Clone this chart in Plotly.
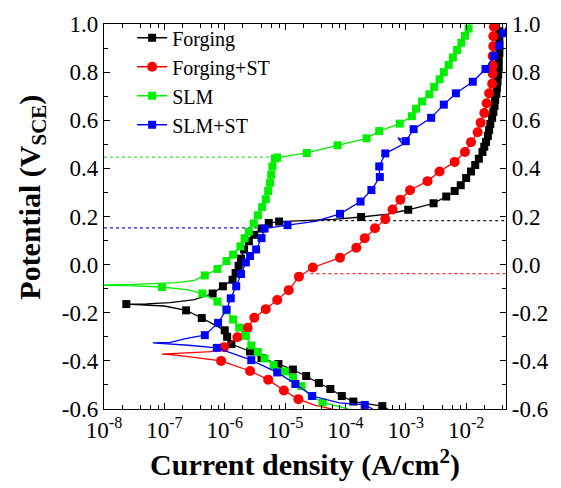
import numpy as np
import plotly.graph_objects as go

# ---------------- data (log10 of current density, potential V_SCE, marker flag) -------------
forging_logi = [-3.30, -3.39, -3.87, -4.06, -4.25, -4.44, -4.65, -4.87, -5.11, -5.39, -5.58, -5.89,
                -5.96, -6.00, -6.38, -6.64, -7.00, -7.40, -7.63, -7.30, -6.90, -6.50, -6.20, -6.03,
                -5.87, -5.82, -5.77, -5.73, -5.68, -5.60, -5.51, -5.39, -5.27, -5.10, -4.60, -4.20,
                -3.74, -3.30, -2.96, -2.54, -2.33, -2.19, -2.09, -2.00, -1.92, -1.85, -1.79, -1.73,
                -1.70, -1.67, -1.64, -1.62, -1.60, -1.57, -1.55, -1.53, -1.52, -1.50, -1.49, -1.48,
                -1.47, -1.46, -1.46, -1.45, -1.45, -1.45, -1.45, -1.45]
forging_e = [-0.600, -0.588, -0.569, -0.546, -0.517, -0.492, -0.463, -0.436, -0.413, -0.388, -0.361, -0.330,
             -0.300, -0.273, -0.222, -0.190, -0.172, -0.166, -0.164, -0.163, -0.158, -0.145, -0.120, -0.090,
             -0.063, -0.035, -0.005, 0.025, 0.063, 0.097, 0.124, 0.150, 0.173, 0.179, 0.183, 0.188,
             0.198, 0.210, 0.228, 0.255, 0.283, 0.306, 0.330, 0.360, 0.387, 0.414, 0.440, 0.468,
             0.490, 0.510, 0.535, 0.560, 0.585, 0.610, 0.635, 0.660, 0.685, 0.710, 0.735, 0.760,
             0.790, 0.820, 0.850, 0.880, 0.910, 0.940, 0.970, 1.000]
forging_mk = [0, 1, 1, 1, 1, 1, 1, 1, 1, 1, 1, 1,
              1, 1, 1, 1, 0, 0, 1, 0, 0, 0, 1, 1,
              1, 1, 1, 1, 1, 1, 1, 1, 1, 1, 0, 0,
              1, 0, 1, 1, 1, 1, 1, 1, 1, 1, 1, 1,
              1, 1, 1, 1, 1, 1, 1, 1, 1, 1, 1, 1,
              1, 1, 1, 1, 1, 1, 1, 0]

forgst_logi = [-4.23, -4.50, -4.78, -5.02, -5.28, -5.58, -6.06, -6.50, -6.80, -7.04, -6.60, -6.23,
               -6.01, -5.79, -5.62, -5.51, -5.32, -5.13, -4.94, -4.77, -4.54, -4.09, -3.82, -3.68,
               -3.51, -3.34, -3.22, -3.09, -2.93, -2.64, -2.44, -2.19, -2.02, -1.92, -1.81, -1.76,
               -1.70, -1.66, -1.62, -1.57, -1.56, -1.56, -1.56, -1.55, -1.55, -1.54, -1.54]
forgst_e = [-0.600, -0.585, -0.559, -0.523, -0.478, -0.442, -0.400, -0.385, -0.376, -0.372, -0.368, -0.362,
            -0.343, -0.302, -0.262, -0.221, -0.185, -0.147, -0.106, -0.050, -0.012, 0.029, 0.070, 0.110,
            0.151, 0.189, 0.229, 0.270, 0.309, 0.347, 0.387, 0.427, 0.468, 0.509, 0.550, 0.590,
            0.630, 0.671, 0.712, 0.752, 0.793, 0.827, 0.867, 0.908, 0.949, 0.989, 1.000]
forgst_mk = [0, 0, 1, 1, 1, 1, 1, 0, 0, 0, 0, 0,
             1, 1, 1, 1, 1, 1, 1, 1, 1, 1, 1, 1,
             1, 1, 1, 1, 1, 1, 1, 1, 1, 1, 1, 1,
             1, 1, 1, 1, 1, 1, 1, 1, 1, 1, 0]

slm_logi = [-3.95, -4.38, -4.56, -4.73, -4.87, -5.00, -5.19, -5.34, -5.45, -5.56, -5.65, -5.76,
            -5.86, -5.97, -6.12, -6.37, -6.60, -7.04, -7.60, -8.30, -7.50, -6.80, -6.50, -6.33,
            -6.12, -5.97, -5.86, -5.74, -5.67, -5.60, -5.52, -5.45, -5.38, -5.32, -5.28, -5.25,
            -5.23, -5.21, -5.17, -5.13, -4.64, -4.13, -3.65, -3.44, -3.10, -2.90, -2.83, -2.73,
            -2.61, -2.53, -2.44, -2.37, -2.29, -2.22, -2.15, -2.08, -2.02, -1.96, -1.94]
slm_e = [-0.600, -0.573, -0.546, -0.505, -0.471, -0.444, -0.417, -0.390, -0.363, -0.336, -0.296, -0.262,
         -0.228, -0.190, -0.154, -0.120, -0.105, -0.093, -0.087, -0.085, -0.082, -0.075, -0.065, -0.045,
         -0.018, 0.015, 0.042, 0.076, 0.110, 0.137, 0.171, 0.205, 0.239, 0.272, 0.306, 0.340,
         0.374, 0.408, 0.441, 0.445, 0.464, 0.496, 0.525, 0.555, 0.586, 0.617, 0.648, 0.678,
         0.708, 0.739, 0.770, 0.800, 0.830, 0.861, 0.892, 0.922, 0.951, 0.981, 1.000]
slm_mk = [0, 1, 1, 1, 1, 1, 1, 1, 1, 1, 1, 1,
          1, 1, 1, 1, 0, 1, 0, 0, 0, 0, 0, 1,
          1, 1, 1, 1, 1, 1, 1, 1, 1, 1, 1, 1,
          1, 1, 1, 1, 1, 1, 1, 1, 1, 1, 1, 1,
          1, 1, 1, 1, 1, 1, 1, 1, 1, 1, 0]

slmst_logi = [-3.55, -3.68, -4.10, -4.55, -4.83, -5.13, -5.56, -6.13, -6.60, -7.00, -7.19, -6.90,
              -6.61, -6.33, -6.11, -5.97, -5.90, -5.81, -5.73, -5.65, -5.58, -5.48, -5.39, -5.34,
              -4.96, -4.50, -4.09, -3.75, -3.57, -3.43, -3.44, -3.34, -3.20, -3.05, -3.13, -3.00,
              -2.87, -2.58, -2.37, -2.17, -1.89, -1.68, -1.54, -1.45, -1.38, -1.34]
slmst_e = [-0.600, -0.583, -0.575, -0.546, -0.496, -0.448, -0.397, -0.346, -0.335, -0.330, -0.325, -0.323,
           -0.305, -0.293, -0.242, -0.187, -0.140, -0.090, -0.039, 0.009, 0.036, 0.063, 0.110, 0.150,
           0.164, 0.180, 0.211, 0.262, 0.310, 0.364, 0.408, 0.462, 0.480, 0.500, 0.527, 0.513,
           0.563, 0.610, 0.665, 0.712, 0.760, 0.813, 0.867, 0.910, 0.962, 0.985]
slmst_mk = [0, 1, 0, 1, 1, 1, 1, 1, 0, 0, 0, 0,
            0, 1, 1, 1, 1, 1, 1, 1, 1, 1, 1, 1,
            1, 0, 1, 1, 1, 1, 1, 1, 0, 0, 0, 1,
            1, 1, 1, 1, 1, 1, 1, 1, 1, 0]

# dotted reference lines: (potential, log10 i start, log10 i end)
ref_potentials = [0.447, 0.153, 0.183, -0.037]
ref_start = [-8.0, -8.0, -4.70, -4.58]
ref_end = [-5.15, -5.40, -1.34, -1.34]
ref_colors = ["#40e040", "#2020d0", "#202020", "#ff3030"]

series_names = ["Forging", "Forging+ST", "SLM", "SLM+ST"]
series_colors = ["#000000", "#ff0000", "#00f000", "#0000ff"]
series_symbols = ["square", "circle", "square", "square"]

y_ticks = [-0.6, -0.4, -0.2, 0.0, 0.2, 0.4, 0.6, 0.8, 1.0]
y_ticktext = ["-0.6", "-0.4", "-0.2", "0.0", "0.2", "0.4", "0.6", "0.8", "1.0"]
x_decades = [-8, -7, -6, -5, -4, -3, -2]

FONT = "Liberation Serif"

fig = go.Figure()

# dotted lines
for v, s, e, c in zip(ref_potentials, ref_start, ref_end, ref_colors):
    fig.add_trace(go.Scatter(x=[10 ** s, 10 ** e], y=[v, v], mode="lines",
                             line=dict(color=c, width=1.2, dash="dot"),
                             showlegend=False, hoverinfo="skip"))

data = [(forging_logi, forging_e, forging_mk),
        (forgst_logi, forgst_e, forgst_mk),
        (slm_logi, slm_e, slm_mk),
        (slmst_logi, slmst_e, slmst_mk)]

for (li, e, mk), name, col, sym in zip(data, series_names, series_colors, series_symbols):
    x = [10 ** v for v in li]
    fig.add_trace(go.Scatter(x=x, y=e, mode="lines", line=dict(color=col, width=1.3),
                             showlegend=False, hoverinfo="skip"))
    xm = [xx for xx, m in zip(x, mk) if m]
    ym = [yy for yy, m in zip(e, mk) if m]
    size = 10 if sym == "circle" else 8
    fig.add_trace(go.Scatter(x=xm, y=ym, mode="markers",
                             marker=dict(symbol=sym, size=size, color=col, line=dict(width=0)),
                             showlegend=False, hoverinfo="skip"))

# legend entries
for name, col, sym in zip(series_names, series_colors, series_symbols):
    size = 10 if sym == "circle" else 8
    fig.add_trace(go.Scatter(x=[None], y=[None], mode="lines+markers", name=name,
                             line=dict(color=col, width=1.3),
                             marker=dict(symbol=sym, size=size, color=col)))

# helper trace for right axis
fig.add_trace(go.Scatter(x=[1e-8], y=[0], yaxis="y2", mode="markers",
                         marker=dict(opacity=0), showlegend=False, hoverinfo="skip"))

minor_vals = []
for d in range(-8, -1):
    for m in [2, 4, 6, 8]:
        minor_vals.append(m * 10.0 ** d)

fig.update_layout(
    width=561, height=488,
    margin=dict(l=104, r=46, t=17, b=77),
    paper_bgcolor="white", plot_bgcolor="white",
    font=dict(family=FONT, color="black"),
    showlegend=True,
    legend=dict(x=0.07, y=1.015, xanchor="left", yanchor="top",
                font=dict(family=FONT, size=20, color="black"),
                bgcolor="rgba(0,0,0,0)", borderwidth=0, tracegroupgap=0),
    xaxis=dict(type="log", range=[-8, -1.34], showgrid=False, zeroline=False,
               showline=True, linecolor="black", linewidth=1.3, mirror="ticks",
               ticks="inside", ticklen=6, tickwidth=1.2, tickcolor="black",
               tickvals=[10.0 ** d for d in x_decades],
               ticktext=["10<sup>%d</sup>" % d for d in x_decades],
               tickfont=dict(family=FONT, size=23, color="black"),
               minor=dict(ticks="inside", ticklen=3.5, tickwidth=1, tickcolor="black",
                          tickvals=minor_vals, showgrid=False),
               title=dict(text="<b>Current density (A/cm<sup>2</sup>)</b>",
                          font=dict(family=FONT, size=30, color="black"), standoff=12)),
    yaxis=dict(range=[-0.6, 1.0], showgrid=False, zeroline=False,
               showline=True, linecolor="black", linewidth=1.3, mirror=False,
               ticks="inside", ticklen=6, tickwidth=1.2, tickcolor="black",
               tickvals=y_ticks, ticktext=y_ticktext,
               tickfont=dict(family=FONT, size=23, color="black"),
               minor=dict(ticks="inside", ticklen=3.5, tickwidth=1, tickcolor="black",
                          dtick=0.1, showgrid=False)),
    yaxis2=dict(range=[-0.6, 1.0], overlaying="y", side="right", anchor="x",
                showgrid=False, zeroline=False,
                showline=True, linecolor="black", linewidth=1.3,
                ticks="inside", ticklen=6, tickwidth=1.2, tickcolor="black",
                tickvals=y_ticks, ticktext=y_ticktext,
                tickfont=dict(family=FONT, size=23, color="black"),
                minor=dict(ticks="inside", ticklen=3.5, tickwidth=1, tickcolor="black",
                           dtick=0.1, showgrid=False)),
    annotations=[dict(text="<b>Potential (V<sub>SCE</sub>)</b>", textangle=-90,
                      xref="paper", yref="paper", x=-0.178, y=0.55,
                      xanchor="center", yanchor="middle", showarrow=False,
                      font=dict(family=FONT, size=30, color="black"))],
)

fig.write_html("out.html")
